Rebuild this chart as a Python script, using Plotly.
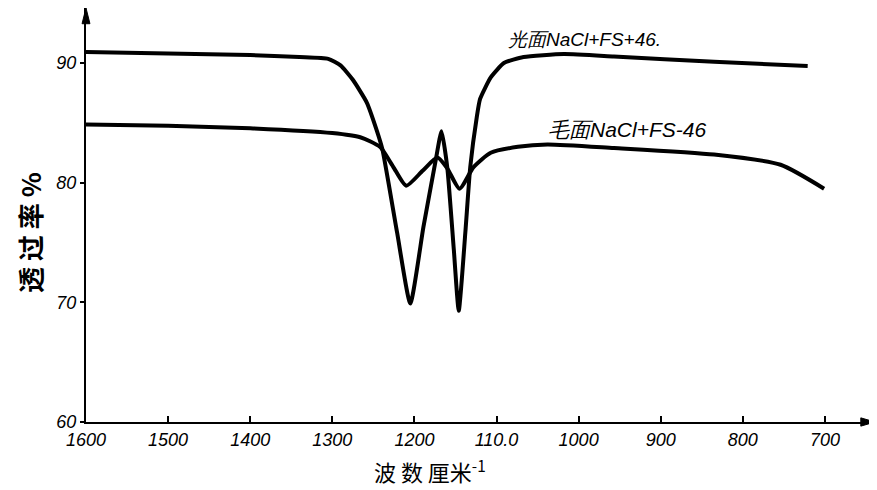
import plotly.graph_objects as go

# Smooth-surface sample (光面 NaCl+FS+46)
wn_smooth = [1600, 1500, 1400, 1340, 1305, 1290, 1275, 1258, 1246, 1239, 1221, 1205, 1189,
             1174, 1167, 1160, 1152, 1146, 1138, 1132, 1124, 1120, 1107, 1091, 1067,
             1018, 957, 835, 721]
t_smooth = [90.92, 90.8, 90.67, 90.5, 90.35, 89.8, 88.6, 86.7, 84.4, 82.8, 75.8, 69.9, 76.3,
            81.9, 84.3, 81.3, 74.4, 69.3, 75.8, 81.3, 85.5, 87.0, 88.8, 90.0, 90.5,
            90.75, 90.55, 90.1, 89.75]

# Matte-surface sample (毛面 NaCl+FS-46)
wn_matte = [1600, 1500, 1400, 1300, 1266, 1242, 1226, 1210, 1190, 1172, 1160,
            1145, 1128, 1107, 1074, 1038, 957, 835, 754, 701]
t_matte = [84.87, 84.75, 84.55, 84.15, 83.8, 83.0, 81.35, 79.75, 81.0, 82.1, 81.2,
           79.5, 81.3, 82.5, 83.0, 83.2, 82.9, 82.35, 81.5, 79.5]

x_ticks = [1600, 1500, 1400, 1300, 1200, 1100, 1000, 900, 800, 700]
x_tick_labels = ["1600", "1500", "1400", "1300", "1200", "110.0", "1000", "900", "800", "700"]
y_ticks = [60, 70, 80, 90]

label_smooth = "光面NaCl+FS+46."
label_matte = "毛面NaCl+FS-46"

font_fam = "Liberation Sans"

fig = go.Figure()
fig.add_trace(go.Scatter(x=wn_smooth, y=t_smooth, mode="lines",
                         line=dict(color="black", width=4, shape="spline", smoothing=0.5),
                         showlegend=False))
fig.add_trace(go.Scatter(x=wn_matte, y=t_matte, mode="lines",
                         line=dict(color="black", width=4, shape="spline", smoothing=0.6),
                         showlegend=False))

fig.update_layout(
    width=869, height=482,
    margin=dict(l=78, r=2, t=0, b=68),
    paper_bgcolor="white", plot_bgcolor="white",
    font=dict(family=font_fam, color="black"),
    xaxis=dict(range=[1600, 639], tickmode="array", tickvals=x_ticks, ticktext=x_tick_labels,
               showgrid=False, zeroline=False, showline=True, linecolor="black", linewidth=2,
               ticks="inside", ticklen=6, tickcolor="black", tickwidth=1.5,
               tickfont=dict(size=18, style="italic", family=font_fam)),
    yaxis=dict(range=[60, 94.6], tickmode="array", tickvals=y_ticks,
               showgrid=False, zeroline=False, showline=True, linecolor="black", linewidth=2,
               ticks="outside", ticklen=4, tickcolor="black", tickwidth=1.5,
               tickfont=dict(size=18, style="italic", family=font_fam)),
    shapes=[
        dict(type="path", xref="paper", yref="paper",
             path="M -0.005,0.962 L 0,1 L 0.005,0.962 Z",
             fillcolor="black", line=dict(color="black", width=1)),
        dict(type="path", xref="paper", yref="paper",
             path="M 0.982,-0.01 L 1,0 L 0.982,0.01 Z",
             fillcolor="black", line=dict(color="black", width=1)),
    ],
    annotations=[
        dict(text=label_smooth, x=993, y=91.95, xref="x", yref="y", showarrow=False,
             font=dict(size=19, style="italic", family=font_fam),
             xanchor="center", yanchor="middle"),
        dict(text=label_matte, x=941, y=84.45, xref="x", yref="y", showarrow=False,
             font=dict(size=21, style="italic", family=font_fam),
             xanchor="center", yanchor="middle"),
        dict(text="透 过 率 %", x=-0.071, y=0.459, xref="paper", yref="paper", showarrow=False,
             textangle=-90, xanchor="center", yanchor="middle",
             font=dict(size=26, family="Noto Sans CJK SC", weight="bold")),
        dict(text="波 数 厘米<sup>-1</sup>", x=0.436, y=-0.116, xref="paper", yref="paper",
             showarrow=False, xanchor="center", yanchor="middle",
             font=dict(size=22, family="Noto Sans CJK SC")),
    ],
)

fig.write_html("out.html")
